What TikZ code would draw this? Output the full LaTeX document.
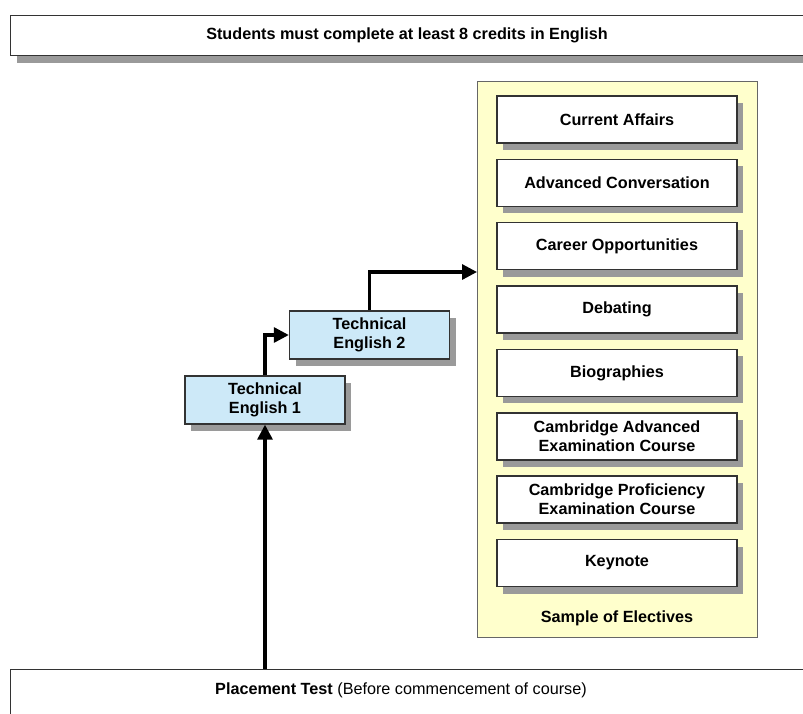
\documentclass[tikz,border=0pt]{standalone}
\usepackage{fontspec}
\setmainfont{Liberation Sans}
\usetikzlibrary{shadows,arrows.meta}
\definecolor{boxline}{HTML}{333333}
\definecolor{shadowgray}{HTML}{9A9A9A}
\definecolor{teblue}{HTML}{CDE9F8}
\definecolor{panelyellow}{HTML}{FFFFCC}
\tikzset{
  shadowed/.style={drop shadow={shadow xshift=6pt, shadow yshift=-7pt, fill=shadowgray, opacity=1}},
  basebox/.style={draw=boxline, line width=1.4pt, fill=white, inner sep=0pt, align=center,
     font=\fontsize{16.2}{19}\selectfont\bfseries},
  elective/.style={basebox, shadowed, minimum width=240pt, minimum height=47pt},
  tebox/.style={basebox, shadowed, fill=teblue, minimum width=160pt, minimum height=48pt},
  flow/.style={line width=3.2pt, -{Triangle[length=15pt,width=15pt]}, black}
}
\begin{document}
\begin{tikzpicture}[x=1pt,y=-1pt]
\useasboundingbox (0,0) rectangle (803,713);
\clip (0,0) rectangle (803,713);
% top banner
\node[basebox, shadowed, minimum width=810pt, minimum height=40pt, anchor=north west] (top) at (10,15) {};
\node[font=\fontsize{16.2}{19}\selectfont\bfseries] (toptext) at (407,35) {Students must complete at least 8 credits in English};
% bottom banner
\node[basebox, minimum width=810pt, minimum height=60pt, anchor=north west] (bottom) at (10,669) {};
\node[font=\fontsize{16.2}{19}\selectfont] (bottomtext) at (401,690) {\textbf{Placement Test} (Before commencement of course)};
% panel
\node[draw=gray!80!black, line width=1pt, fill=panelyellow, minimum width=280pt, minimum height=556pt, anchor=north west, inner sep=0pt] (panel) at (477,81) {};
\node[font=\fontsize{16.2}{19}\selectfont\bfseries] (paneltitle) at (617,618) {Sample of Electives};
% electives
\node[elective] (e1) at (617,119.5) {Current Affairs};
\node[elective] (e2) at (617,182.9) {Advanced Conversation};
\node[elective] (e3) at (617,246.2) {Career Opportunities};
\node[elective] (e4) at (617,309.6) {Debating};
\node[elective] (e5) at (617,372.9) {Biographies};
\node[elective] (e6) at (617,436.3) {Cambridge Advanced\\Examination Course};
\node[elective] (e7) at (617,499.6) {Cambridge Proficiency\\Examination Course};
\node[elective] (e8) at (617,563) {Keynote};
% technical english
\node[tebox] (te1) at (265,400) {Technical\\English 1};
\node[tebox] (te2) at (369.5,335) {Technical\\English 2};
\coordinate (c2) at (369.5,272);
% arrows
\draw[flow] (265,669) -- (te1.south);
\draw[flow] (te1.north) |- (te2.west);
\draw[flow] (te2.north) |- (panel.west |- c2);
\end{tikzpicture}
\end{document}
